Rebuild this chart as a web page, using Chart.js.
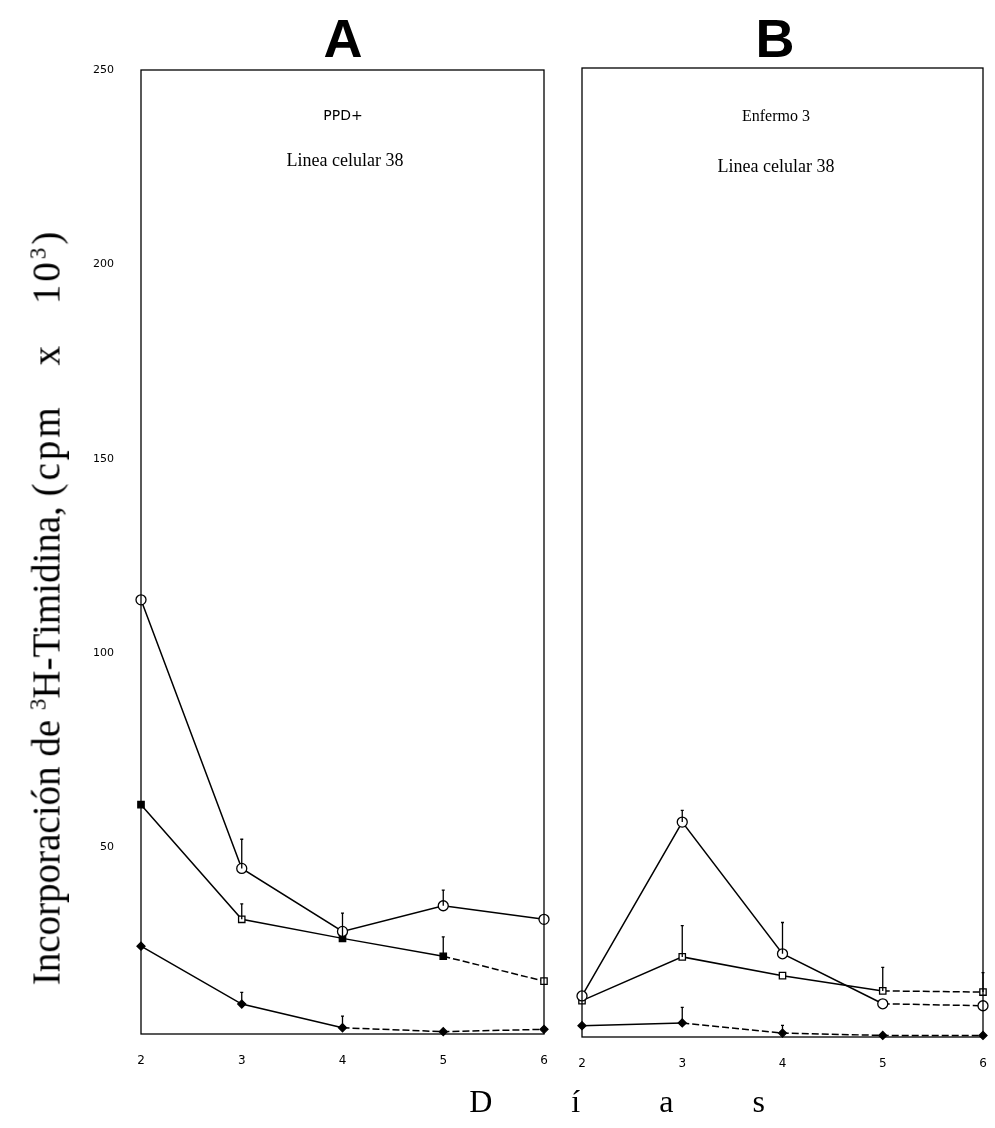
<!DOCTYPE html>
<html>
<head>
<meta charset="utf-8">
<script src="https://cdn.jsdelivr.net/npm/chart.js@4.4.1/dist/chart.umd.min.js"></script>
<style>
  body { margin: 0; background: #fff; }
  #page { position: relative; width: 995px; height: 1128px; overflow: hidden; }
  canvas { position: absolute; top: 0; }
  .lbl { position: absolute; color: #000; white-space: nowrap; transform: translate(-50%, -50%); }
  .panel { font: bold 54px "Liberation Sans", Arial, sans-serif; }
  .sub { font: 14px "DejaVu Sans", sans-serif; }
  .serif { font-family: "Liberation Serif", serif; }
  #ytitle { left: 46px; top: 607px; transform: translate(-50%, -50%) rotate(-90deg); font-size: 39px; }
  #ytitle .esp { word-spacing: 26px; letter-spacing: 3px; }
  #ytitle sup { font-size: 23px; }
  #xtitle { left: 617px; top: 1101px; font-size: 32px; word-spacing: 71px; }
</style>
</head>
<body>
<div id="page">
  <canvas id="graficoA" width="560" height="1128" style="left:0;width:560px;height:1128px"></canvas>
  <canvas id="graficoB" width="435" height="1128" style="left:560px;width:435px;height:1128px"></canvas>

  <div class="lbl panel" style="left:343px;top:38px">A</div>
  <div class="lbl panel" style="left:775px;top:38px">B</div>
  <div class="lbl sub" style="left:343px;top:115px">PPD+</div>
  <div class="lbl serif" style="left:345px;top:160px;font-size:18px">Linea celular 38</div>
  <div class="lbl serif" style="left:776px;top:116px;font-size:16px">Enfermo 3</div>
  <div class="lbl serif" style="left:776px;top:166px;font-size:18px">Linea celular 38</div>
  <div id="ytitle" class="lbl serif">Incorporación de <sup>3</sup>H-Timidina, <span class="esp">(cpm x 10<sup>3</sup>)</span></div>
  <div id="xtitle" class="lbl serif">D í a s</div>
</div>

<script>
// dias de cultivo
const dias = [2, 3, 4, 5, 6];
const ticksY = [50, 100, 150, 200, 250];

// A: PPD+, linea celular 38
const ppdCirculos = [113.7, 44.6, 28.4, 35, 31.5];
const ppdCirculosErr = [0, 7.5, 0, 4, 0];
const ppdCuadrados = [61, 31.5, 26.6, 22, 15.6];
const ppdCuadradosErr = [0, 4, 6.5, 5, 0];
const ppdRombos = [24.6, 9.7, 3.6, 2.6, 3.2];
const ppdRombosErr = [0, 3, 3, 0, 0];

// B: enfermo 3, linea celular 38
const enfCirculos = [12.5, 57, 23.3, 10.5, 10];
const enfCirculosErr = [0, 3, 8, 0, 0];
const enfCuadrados = [11.3, 22.5, 17.7, 13.8, 13.5];
const enfCuadradosErr = [0, 8, 0, 6, 5];
const enfRombos = [4.9, 5.6, 3, 2.4, 2.4];
const enfRombosErr = [0, 4, 2, 0, 0];

function pares(valores) {
  return dias.map((d, i) => ({ x: d, y: valores[i] }));
}

// segmentos discontinuos a partir del indice dado
function trazoDesde(inicio) {
  return { borderDash: ctx => (ctx.p0DataIndex >= inicio ? [7, 3] : undefined) };
}

function serie(valores, errores, estilo, desde) {
  return Object.assign({
    data: pares(valores),
    errores: errores,
    borderColor: '#000',
    borderWidth: 1.5,
    pointBorderColor: '#000',
    pointBorderWidth: 1.3,
    tension: 0,
    clip: false,
    segment: desde != null ? trazoDesde(desde) : undefined,
  }, estilo);
}

const circulo = { pointStyle: 'circle', pointRadius: 5, pointBackgroundColor: '#fff' };
const rombo = { pointStyle: 'rectRot', pointRadius: 4, pointBackgroundColor: '#000' };

// marco y barras de error
const marco = {
  id: 'marco',
  afterDatasetsDraw(chart) {
    const { ctx, chartArea: a, scales } = chart;
    ctx.save();
    ctx.strokeStyle = '#000';
    ctx.lineWidth = 1.3;
    ctx.strokeRect(a.left, a.top, a.right - a.left, a.bottom - a.top);
    chart.data.datasets.forEach(ds => {
      ds.data.forEach((p, i) => {
        const e = ds.errores[i];
        if (!e) return;
        const x = scales.x.getPixelForValue(p.x);
        const y0 = scales.y.getPixelForValue(p.y);
        const y1 = scales.y.getPixelForValue(p.y + e);
        ctx.beginPath();
        ctx.moveTo(x, y0);
        ctx.lineTo(x, y1);
        ctx.moveTo(x - 1.5, y1);
        ctx.lineTo(x + 1.5, y1);
        ctx.stroke();
      });
    });
    ctx.restore();
  }
};

function opciones(mostrarY, padding) {
  return {
    responsive: false,
    animation: false,
    layout: { padding: padding },
    plugins: { legend: { display: false }, tooltip: { enabled: false } },
    scales: {
      x: {
        type: 'linear',
        min: 2,
        max: 6,
        grid: { display: false },
        border: { display: false },
        afterBuildTicks: s => { s.ticks = dias.map(v => ({ value: v })); },
        afterFit: s => { s.height = 40; s.paddingLeft = 0; s.paddingRight = 0; },
        ticks: { color: '#000', padding: 12, font: { family: 'DejaVu Sans', size: 12 } },
      },
      y: {
        display: mostrarY,
        min: 2,
        max: 250,
        grid: { display: false },
        border: { display: false },
        afterBuildTicks: s => { s.ticks = ticksY.map(v => ({ value: v })); },
        afterFit: s => { s.width = mostrarY ? 60 : 0; },
        ticks: { color: '#000', padding: 19, font: { family: 'DejaVu Sans', size: 11 } },
      },
    },
  };
}

new Chart(document.getElementById('graficoA'), {
  type: 'line',
  data: {
    datasets: [
      serie(ppdCirculos, ppdCirculosErr, circulo),
      serie(ppdCuadrados, ppdCuadradosErr, {
        pointStyle: 'rect', pointRadius: 4.5,
        pointBackgroundColor: ['#000', '#fff', '#000', '#000', '#fff'],
      }, 3),
      serie(ppdRombos, ppdRombosErr, rombo, 2),
    ],
  },
  options: opciones(true, { left: 81, right: 16, top: 70, bottom: 54 }),
  plugins: [marco],
});

new Chart(document.getElementById('graficoB'), {
  type: 'line',
  data: {
    datasets: [
      serie(enfCirculos, enfCirculosErr, circulo, 3),
      serie(enfCuadrados, enfCuadradosErr, {
        pointStyle: 'rect', pointRadius: 4.5, pointBackgroundColor: '#fff',
      }, 3),
      serie(enfRombos, enfRombosErr, rombo, 1),
    ],
  },
  options: opciones(false, { left: 22, right: 12, top: 68, bottom: 51 }),
  plugins: [marco],
});
</script>
</body>
</html>
